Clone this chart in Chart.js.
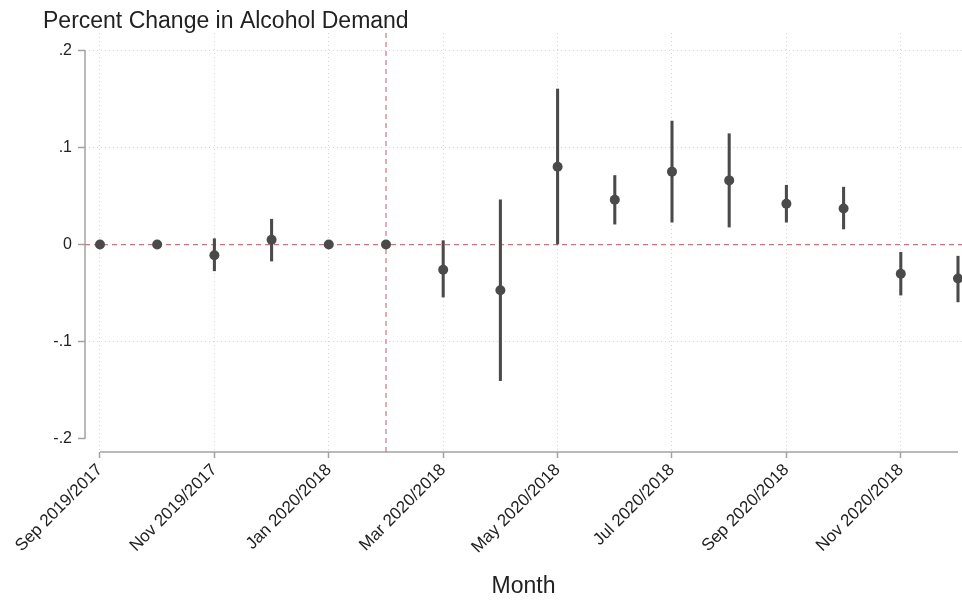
<!DOCTYPE html>
<html>
<head>
<meta charset="utf-8">
<title>Percent Change in Alcohol Demand</title>
<script src="https://cdn.jsdelivr.net/npm/chart.js@4.4.1/dist/chart.umd.min.js"></script>
<style>
html,body{margin:0;padding:0;background:#fff}
#wrap{width:962px;height:600px;position:relative}
</style>
</head>
<body>
<div id="wrap"><canvas id="demand"></canvas></div>
<script>

/* =========================
   DATA
========================= */

const months = [
"Sep 2019/2017","Oct 2019/2017","Nov 2019/2017","Dec 2019/2017",
"Jan 2020/2018","Feb 2020/2018","Mar 2020/2018","Apr 2020/2018",
"May 2020/2018","Jun 2020/2018","Jul 2020/2018","Aug 2020/2018",
"Sep 2020/2018","Oct 2020/2018","Nov 2020/2018","Dec 2020/2018"
]

// point estimates and 95% CI bounds (null = reference month, no interval)
const estimate = [0, 0, -0.011, 0.005, 0, 0, -0.026, -0.047, 0.080, 0.046, 0.075, 0.066, 0.042, 0.037, -0.030, -0.035]
const ciLow    = [null, null, -0.027, -0.017, -0.003, null, -0.054, -0.140, 0.000, 0.021, 0.023, 0.018, 0.023, 0.016, -0.052, -0.059]
const ciHigh   = [null, null, 0.006, 0.026, 0.003, null, 0.004, 0.046, 0.160, 0.071, 0.127, 0.114, 0.061, 0.059, -0.008, -0.012]

const xTicks = [0, 2, 4, 6, 8, 10, 12, 14]
const yTicks = [-0.2, -0.1, 0, 0.1, 0.2]

const treatIndex = 5

/* =========================
   STYLE
========================= */

const FONT = "'Liberation Sans', Arial, Helvetica, sans-serif"
const textColor = "#222"
const gridGray = "#d4d4d4"
const axisGray = "#a2a2a2"
const refRed = "#c97584"
const markColor = "#4a4a4a"

/* =========================
   REFERENCE LINES + AXES
========================= */

const refLines = {
id: "refLines",
beforeDatasetsDraw(chart){

const {ctx, chartArea:a, scales:{x, y}} = chart
ctx.save()

// axis lines: y only over the tick range, x from the first to last month
ctx.strokeStyle = axisGray
ctx.lineWidth = 1.5
ctx.beginPath()
ctx.moveTo(a.left, y.getPixelForValue(yTicks[0]))
ctx.lineTo(a.left, y.getPixelForValue(yTicks[yTicks.length-1]))
ctx.moveTo(x.getPixelForValue(0), a.bottom)
ctx.lineTo(x.getPixelForValue(months.length-1), a.bottom)
ctx.stroke()

// dashed zero line and treatment month
ctx.strokeStyle = refRed
ctx.lineWidth = 1.2
ctx.setLineDash([5,4])
const y0 = y.getPixelForValue(0)
ctx.beginPath()
ctx.moveTo(a.left, y0)
ctx.lineTo(a.right, y0)
ctx.stroke()
const xt = x.getPixelForValue(treatIndex)
ctx.beginPath()
ctx.moveTo(xt, a.top)
ctx.lineTo(xt, a.bottom)
ctx.stroke()

ctx.restore()
}
}

/* =========================
   CHART
========================= */

const ciData = []
months.forEach((m,i)=>{
if(ciLow[i] !== null) ciData.push({x:i, y:[ciLow[i], ciHigh[i]]})
})

const pointData = estimate.map((v,i)=>({x:i, y:v}))

new Chart(document.getElementById("demand"),{

type:"scatter",

data:{
datasets:[
{
type:"bar",
data:ciData,
backgroundColor:markColor,
borderWidth:0,
barThickness:2.4,
order:2
},
{
type:"scatter",
data:pointData,
backgroundColor:markColor,
borderWidth:0,
pointRadius:5,
order:1
}
]
},

options:{
responsive:true,
maintainAspectRatio:false,
animation:false,
events:[],
// plot runs to the right edge, the last marker may touch it
layout:{autoPadding:false, padding:{left:43, right:0, top:0, bottom:0}},
plugins:{
legend:{display:false},
tooltip:{enabled:false},
title:{
display:true,
text:"Percent Change in Alcohol Demand",
align:"start",
color:textColor,
font:{family:FONT, size:23, weight:"normal", lineHeight:1},
padding:{top:10, bottom:0}
}
},
scales:{
x:{
type:"linear",
min:-0.262,
max:15.07,
offset:false,
afterBuildTicks:(scale)=>{ scale.ticks = xTicks.map(v=>({value:v})) },
afterFit:(scale)=>{ scale.height = 148 },
border:{display:false, dash:[1,3]},
grid:{
offset:false,
color:gridGray,
lineWidth:1,
drawTicks:true,
tickLength:6,
tickColor:axisGray,
tickWidth:1.5
},
ticks:{
autoSkip:false,
maxRotation:45,
minRotation:45,
padding:2,
color:textColor,
font:{family:FONT, size:17},
callback:(v)=>months[v] ?? ""
},
title:{
display:true,
text:"Month",
color:textColor,
font:{family:FONT, size:23},
padding:{top:0, bottom:0}
}
},
y:{
type:"linear",
min:-0.2134,
max:0.2176,
afterBuildTicks:(scale)=>{ scale.ticks = yTicks.map(v=>({value:v})) },
afterFit:(scale)=>{ scale.width = 42 },
border:{display:false, dash:[1,3]},
grid:{
color:(c)=> (c.tick && (c.tick.value === 0 || c.tick.value === -0.2)) ? "rgba(0,0,0,0)" : gridGray,
lineWidth:1,
drawTicks:true,
tickLength:7,
tickColor:axisGray,
tickWidth:1.5
},
ticks:{
padding:6,
color:textColor,
font:{family:FONT, size:16},
callback:(v)=> v === 0 ? "0" : String(v).replace("0.", ".")
}
}
}
},

plugins:[refLines]

})

</script>
</body>
</html>
